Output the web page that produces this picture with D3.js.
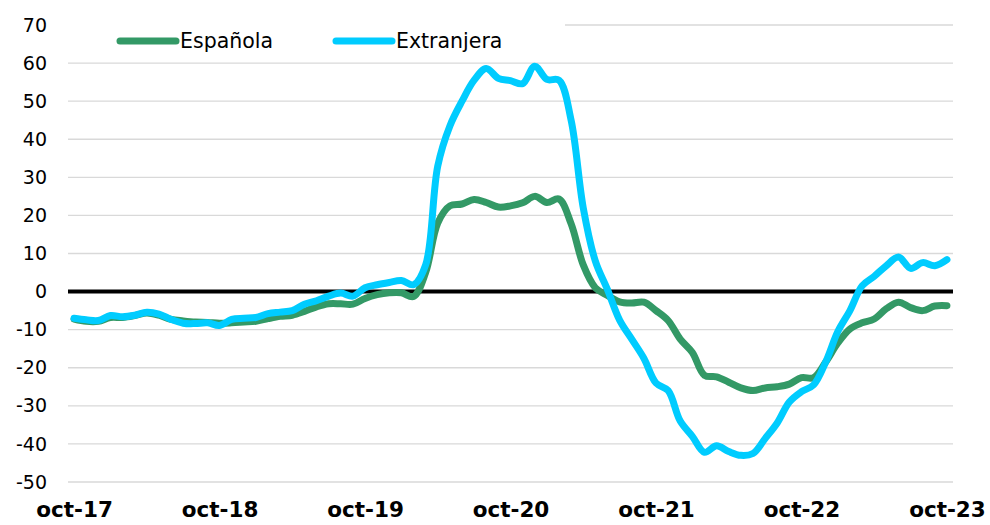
<!DOCTYPE html>
<html>
<head>
<meta charset="utf-8">
<script src="https://cdn.jsdelivr.net/npm/d3@7"></script>
<style>
  body { margin: 0; background: #fff; }
  svg text { font-family: "DejaVu Sans", Verdana, sans-serif; }
</style>
</head>
<body>
<div id="chart"></div>
<script>
// monthly, oct-17 .. oct-23
var yearLabels = ["oct-17", "oct-18", "oct-19", "oct-20", "oct-21", "oct-22", "oct-23"];
var yTicks = [-50, -40, -30, -20, -10, 0, 10, 20, 30, 40, 50, 60, 70];

var espanola = [
  -7.2, -7.8, -7.8, -6.8, -6.8, -6.3, -5.6, -6.2, -7.3, -7.7, -8.0, -8.1,
  -8.3, -8.2, -8.0, -7.8, -7.1, -6.5, -6.2, -5.2, -4.0, -3.2, -3.2, -3.3,
  -1.8, -0.8, -0.3, -0.3, -1.3, 5.0, 18.0, 22.5, 23.0, 24.2, 23.4, 22.2,
  22.5, 23.3, 25.0, 23.4, 24.3, 17.8, 7.0, 1.0, -1.0, -2.7, -3.0, -2.8,
  -5.0, -7.6, -12.5, -16.0, -22.0, -22.4, -23.8, -25.3, -26.0, -25.3, -25.0, -24.3,
  -22.6, -22.6, -18.5, -13.5, -9.8, -8.2, -7.2, -4.5, -2.8, -4.2, -5.0, -3.8,
  -3.7
];
var extranjera = [
  -7.0, -7.4, -7.6, -6.3, -6.6, -6.2, -5.4, -5.9, -7.3, -8.3, -8.4, -8.2,
  -8.9, -7.3, -7.0, -6.8, -5.8, -5.4, -5.0, -3.3, -2.4, -1.2, -0.4, -1.2,
  1.0, 1.8, 2.4, 2.9, 1.8, 7.0, 33.0, 43.5, 50.0, 55.5, 58.6, 56.0,
  55.4, 54.6, 59.2, 55.7, 55.5, 45.0, 22.0, 8.0, 0.5, -7.5, -12.5, -17.5,
  -24.0, -26.0, -34.0, -38.0, -42.2, -40.5, -42.0, -43.0, -42.5, -38.6, -34.5, -29.0,
  -26.3, -24.5, -18.5, -10.5, -5.0, 1.5, 4.0, 6.8, 9.1, 6.1, 7.6, 6.8,
  8.4
];

var width = 990, height = 525;
var plotLeft = 68, plotRight = 953, plotTop = 25, plotBottom = 482;

var svg = d3.select("#chart").append("svg")
    .attr("width", width)
    .attr("height", height);

var months = d3.range(espanola.length);

var x = d3.scalePoint()
    .domain(months)
    .range([plotLeft, plotRight])
    .padding(0.5);

var y = d3.scaleLinear()
    .domain([-50, 70])
    .range([plotBottom, plotTop]);

// gridlines
svg.append("g")
  .selectAll("line")
  .data(yTicks.filter(d => d !== 0))
  .enter().append("line")
    .attr("x1", plotLeft).attr("x2", plotRight)
    .attr("y1", d => y(d)).attr("y2", d => y(d))
    .attr("stroke", "#d9d9d9")
    .attr("stroke-width", 1.3);

// y labels
var yAxis = svg.append("g")
    .attr("transform", "translate(" + (plotLeft - 21) + ",0)")
    .call(d3.axisLeft(y).tickValues(yTicks).tickSize(0).tickPadding(0));
yAxis.select(".domain").remove();
yAxis.selectAll("text")
    .attr("font-size", 19)
    .attr("fill", "#000")
    .attr("font-family", "DejaVu Sans, Verdana, sans-serif")
    .text(d => String(d));

// x labels
var xAxis = svg.append("g")
    .attr("transform", "translate(0," + (plotBottom + 20) + ")")
    .call(d3.axisBottom(x).tickValues(months.filter(i => i % 12 === 0))
      .tickSize(0).tickPadding(0).tickFormat(i => yearLabels[i / 12]));
xAxis.select(".domain").remove();
xAxis.selectAll("text")
    .attr("font-size", 21.5)
    .attr("font-weight", "bold")
    .attr("fill", "#000")
    .attr("font-family", "DejaVu Sans, Verdana, sans-serif");

// zero line
svg.append("line")
    .attr("x1", plotLeft).attr("x2", plotRight)
    .attr("y1", y(0)).attr("y2", y(0))
    .attr("stroke", "#000")
    .attr("stroke-width", 4);

var line = d3.line()
    .x((d, i) => x(i))
    .y(d => y(d))
    .curve(d3.curveCatmullRom.alpha(0.5));

var series = [
  { name: "Española", values: espanola, color: "#339966" },
  { name: "Extranjera", values: extranjera, color: "#00ccff" }
];

svg.selectAll(".series")
  .data(series)
  .enter().append("path")
    .attr("class", "series")
    .attr("d", d => line(d.values))
    .attr("fill", "none")
    .attr("stroke", d => d.color)
    .attr("stroke-width", 7)
    .attr("stroke-linejoin", "round")
    .attr("stroke-linecap", "round");

// legend (white box hides the top gridline)
svg.append("rect")
    .attr("x", plotLeft).attr("y", 18)
    .attr("width", 565 - plotLeft).attr("height", 40)
    .attr("fill", "#fff");

var legendX = [120, 336];
var lg = svg.selectAll(".legend")
  .data(series)
  .enter().append("g")
    .attr("class", "legend")
    .attr("transform", (d, i) => "translate(" + legendX[i] + ",41)");
lg.append("line")
    .attr("x1", 0).attr("x2", 56)
    .attr("stroke", d => d.color)
    .attr("stroke-width", 7)
    .attr("stroke-linecap", "round");
lg.append("text")
    .attr("x", 60)
    .attr("dy", "0.35em")
    .attr("font-size", 20.5)
    .text(d => d.name);
</script>
</body>
</html>
